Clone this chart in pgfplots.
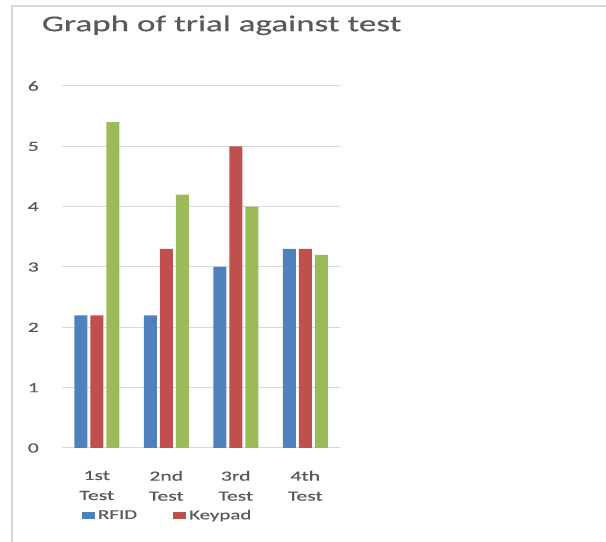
\documentclass[border=0pt]{standalone}
\usepackage{fontspec}
\setmainfont[FakeStretch=1.55, FakeBold=0.5]{Carlito}
\usepackage{pgfplots}
\pgfplotsset{compat=1.18}
\definecolor{rfid}{RGB}{79,129,189}
\definecolor{keypad}{RGB}{192,80,77}
\definecolor{third}{RGB}{155,187,89}
\definecolor{txt}{RGB}{89,89,89}
\definecolor{gridc}{RGB}{217,217,217}
\begin{document}
\begin{tikzpicture}
\useasboundingbox (0,0) rectangle (606bp,542bp);
\draw[gridc, line width=1.2bp] (12bp,0) -- (12bp,536bp) -- (606bp,536bp);
\node[anchor=base west, inner sep=0pt, text=txt, font=\fontsize{22.6bp}{26bp}\selectfont] at (41.7bp,510.8bp) {Graph of trial\ against test};
\begin{axis}[
  at={(62bp,94bp)}, anchor=south west,
  scale only axis, width=278bp, height=362bp,
  xmin=-0.5, xmax=3.5, ymin=0, ymax=6,
  ytick={0,1,2,3,4,5,6},
  xtick={0,1,2,3},
  xticklabels={1st\\Test,2nd\\Test,3rd\\Test,4th\\Test},
  axis line style={draw=none},
  tick style={draw=none},
  ymajorgrids, grid style={gridc, line width=1bp},
  /pgf/number format/assume math mode=true,
  yticklabel style={inner sep=0pt, anchor=east, xshift=-23bp, text=txt, font=\fontsize{14bp}{17bp}\selectfont},
  xticklabel style={inner sep=0pt, anchor=north, yshift=-18.5bp, align=center, text=txt, font=\fontsize{14bp}{20bp}\selectfont},
  ybar, bar width=13bp,
  legend columns=2,
  legend image code/.code={\fill[#1,draw=none] (0bp,-3.7bp) rectangle (13bp,3.7bp);},
  legend style={at={(0.0719,-0.186)}, anchor=west, draw=none, fill=none, inner sep=0pt, outer sep=0pt,
    nodes={inner sep=0pt, text=txt, font=\fontsize{13.5bp}{16bp}\selectfont},
    /tikz/every odd column/.style={column sep=3bp},
    /tikz/every even column/.style={column sep=36bp}},
]
\addplot[fill=rfid, draw=none, bar shift=-16bp] coordinates {(0,2.2) (1,2.2) (2,3.0) (3,3.3)};
\addplot[fill=keypad, draw=none, bar shift=0bp] coordinates {(0,2.2) (1,3.3) (2,5.0) (3,3.3)};
\addplot[fill=third, draw=none, bar shift=16bp, forget plot] coordinates {(0,5.4) (1,4.2) (2,4.0) (3,3.2)};
\legend{RFID, Keypad}
\end{axis}
\end{tikzpicture}
\end{document}
